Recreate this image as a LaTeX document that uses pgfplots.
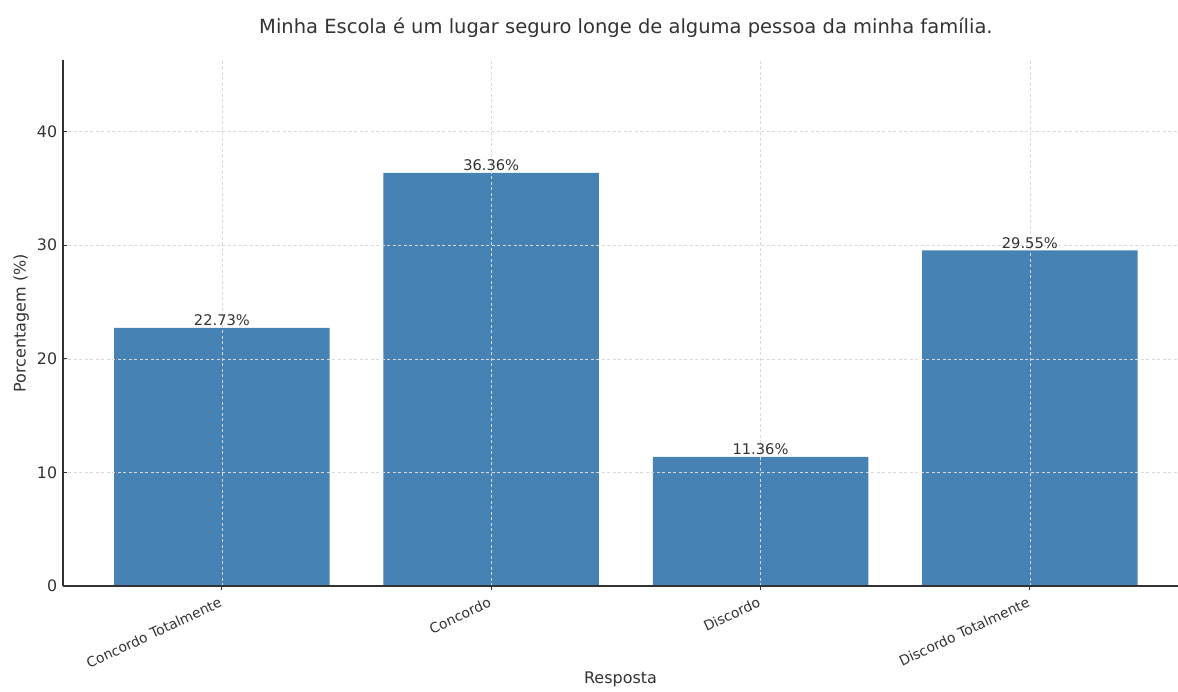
\documentclass[border=0pt]{standalone}
\usepackage{fontspec}
\setmainfont{DejaVu Sans}
\usepackage{pgfplots}
\pgfplotsset{compat=1.18}
\definecolor{steel}{HTML}{4682B4}
\definecolor{txt}{HTML}{333333}
\begin{document}
\begin{tikzpicture}[x=0.6pt,y=0.6pt]
% frame of the 1178x691 px picture, axis box from (63,60) to (1178,586)
\useasboundingbox (-63,-105) rectangle (1115,586);
\begin{axis}[
    at={(0,0)}, anchor=south west,
    scale only axis,
    width=669pt, height=315.6pt,
    xmin=-0.59, xmax=3.55,
    ymin=0, ymax=46.3,
    axis x line*=bottom, axis y line*=left,
    axis line style={txt, line width=0.8pt},
    xtick=data,
    xticklabels={Concordo Totalmente, Concordo, Discordo, Discordo Totalmente},
    x tick label style={rotate=25, anchor=north east, font=\fontsize{8.3}{9}\selectfont, text=txt, inner sep=1pt, xshift=-2.5pt, yshift=-1.5pt},
    ytick={0,10,20,30,40},
    y tick label style={font=\fontsize{9.5}{11}\selectfont, text=txt},
    /pgf/number format/assume math mode=true,
    tick align=inside, major tick length=2.5pt,
    tick style={txt, line width=0.6pt},
    grid=major,
    grid style={dash pattern=on 1.8pt off 1.5pt, gray!30, line width=0.35pt},
    axis on top,
    ylabel={Porcentagem (\%)},
    xlabel={Resposta},
    label style={font=\fontsize{9.6}{11}\selectfont, text=txt},
    ylabel style={yshift=-2pt},
    xlabel style={yshift=3pt},
    ybar, bar width=0.8,
    nodes near coords={\pgfmathprintnumber[fixed,fixed zerofill,precision=2]{\pgfplotspointmeta}\%},
    every node near coord/.append style={font=\fontsize{8.8}{10}\selectfont, text=txt, anchor=south, inner sep=1pt, /pgf/number format/assume math mode=true},
    clip=false,
]
\addplot[fill=steel, draw=none] coordinates {(0,22.73) (1,36.36) (2,11.36) (3,29.55)};
\node[font=\fontsize{11.7}{13}\selectfont, text=txt, anchor=base] at (axis cs:1.5,48.6) {Minha Escola é um lugar seguro longe de alguma pessoa da minha família.};
\end{axis}
\end{tikzpicture}
\end{document}
